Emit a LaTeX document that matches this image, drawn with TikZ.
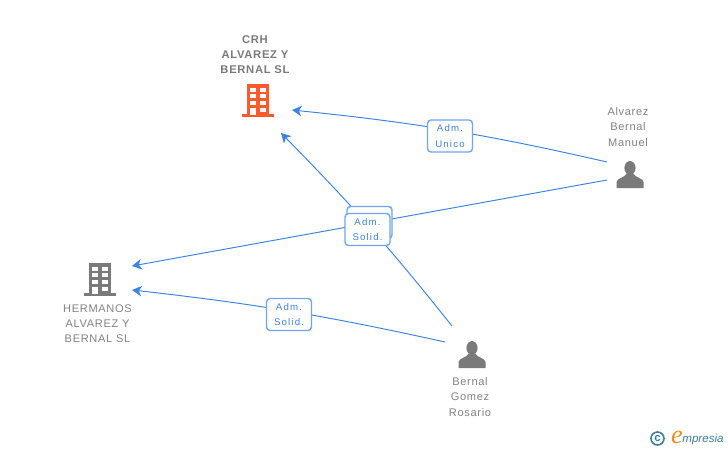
\documentclass[tikz,border=0pt]{standalone}
\usepackage{fontspec}
\setmainfont{Liberation Sans}
\newfontfamily\labelfont[LetterSpace=12]{Liberation Sans}
\newfontfamily\namefont[LetterSpace=6]{Liberation Sans}
\newfontfamily\logofont{Liberation Serif}
\usetikzlibrary{arrows.meta}
\definecolor{linkblue}{HTML}{3F83E0}
\definecolor{boxblue}{HTML}{6FA5EA}
\definecolor{namegray}{HTML}{7A7A7A}
\definecolor{textgray}{HTML}{828282}
\definecolor{iconorange}{HTML}{FF5A2D}
\definecolor{logoteal}{HTML}{3E7F9A}
\definecolor{logoorange}{HTML}{F28A1C}
\tikzset{
	link/.style={draw=linkblue, line width=0.55pt, -{Stealth[length=5.5pt,width=6pt,inset=1.6pt]}},
	rolebox/.style={draw=boxblue, line width=0.8pt, fill=white, rounded corners=2pt, minimum width=0.9cm, minimum height=0.64cm, inner sep=0pt, align=center, text=linkblue, font=\labelfont\fontsize{5.5}{8.6}\selectfont},
	namelabel/.style={text=textgray, align=center, inner sep=0pt, font=\namefont\fontsize{6.3}{8.6}\selectfont},
	boldlabel/.style={namelabel, text=namegray, font=\namefont\bfseries\fontsize{6.4}{8.6}\selectfont},
}
% building centred on the x of #2, top of the block at the y of #2
\def\buildingicon[#1](#2,#3){
	\fill[#1] (#2-11, #3) rectangle (#2+11, #3+31);
	\fill[#1] (#2-16, #3+30) rectangle (#2+16, #3+33);
	\foreach \rowy in {3.7, 10.3, 17, 23.7}{
		\fill[white] (#2-7.7, #3+\rowy) rectangle (#2-2.3, #3+\rowy+4);
		\fill[white] (#2+2.3, #3+\rowy) rectangle (#2+7.7, #3+\rowy+4);
	}
	\fill[white] (#2-7.7, #3+23.7) rectangle (#2-2.3, #3+31);
}
% person centred on the x of #2, top of the head at the y of #2
\def\personicon(#1,#2){
	\fill[namegray] (#1, #2+7) ellipse (5.6 and 7);
	\fill[namegray] (#1-13.5, #2+27) -- (#1-13.5, #2+21) .. controls (#1-13, #2+17) and (#1-6, #2+17) .. (#1-3.5, #2+13) -- (#1+3.5, #2+13) .. controls (#1+6, #2+17) and (#1+13, #2+17) .. (#1+13.5, #2+21) -- (#1+13.5, #2+27) -- cycle;
}

\begin{document}
\begin{tikzpicture}[x=0.02cm, y=-0.02cm]
	\useasboundingbox (0, 0) rectangle (728, 450);

	%%%%% icons and names %%%%%
	\buildingicon[iconorange](258,84);
	\buildingicon[namegray](100,263);
	\personicon(630,161);
	\personicon(472,341);

	\node[boldlabel] (crh) at (255, 55) {CRH\\ALVAREZ Y\\BERNAL SL};
	\node[namelabel] (hermanos) at (97.5, 324) {HERMANOS\\ALVAREZ Y\\BERNAL SL};
	\node[namelabel] (manuel) at (628, 127) {Alvarez\\Bernal\\Manuel};
	\node[namelabel] (rosario) at (470, 397) {Bernal\\Gomez\\Rosario};

	%%%%% connector ends %%%%%
	\coordinate (crhright) at (292, 110);
	\coordinate (crhbottom) at (281, 133);
	\coordinate (hermanostop) at (132, 266);
	\coordinate (hermanosbottom) at (132, 290);
	\coordinate (manueltop) at (607, 162);
	\coordinate (manuelbottom) at (607, 180);
	\coordinate (rosariotop) at (452, 326);
	\coordinate (rosarioleft) at (445, 342);

	\draw[link] (manueltop) to[bend right=3.5] (crhright);
	\draw[link] (manuelbottom) -- (hermanostop);
	\draw[link] (rosariotop) to[bend right=3] (crhbottom);
	\draw[link] (rosarioleft) to[bend right=3] (hermanosbottom);

	%%%%% boxes %%%%%
	\node[rolebox] (unico) at (450, 136) {Adm.\\Unico};
	\node[rolebox] (solidback) at (369.5, 222.5) {};
	\node[rolebox] (solidfront) at (367.5, 229.5) {Adm.\\Solid.};
	\node[rolebox] (solidleft) at (289, 314.5) {Adm.\\Solid.};

	%%%%% logo %%%%%
	\draw[logoteal, line width=0.9pt] (657.5, 438.5) circle (6.5);
	\node[text=logoteal, inner sep=0pt, font=\bfseries\fontsize{6.5}{6.5}\selectfont] (copyc) at (657.5, 438.3) {c};
	\node[text=logoorange, inner sep=0pt, font=\logofont\itshape\fontsize{15}{15}\selectfont] (logoe) at (677, 437) {e};
	\node[text=logoteal, inner sep=0pt, anchor=west, font=\itshape\fontsize{6.6}{8}\selectfont] (logotext) at (682, 439) {mpresia};
\end{tikzpicture}
\end{document}
